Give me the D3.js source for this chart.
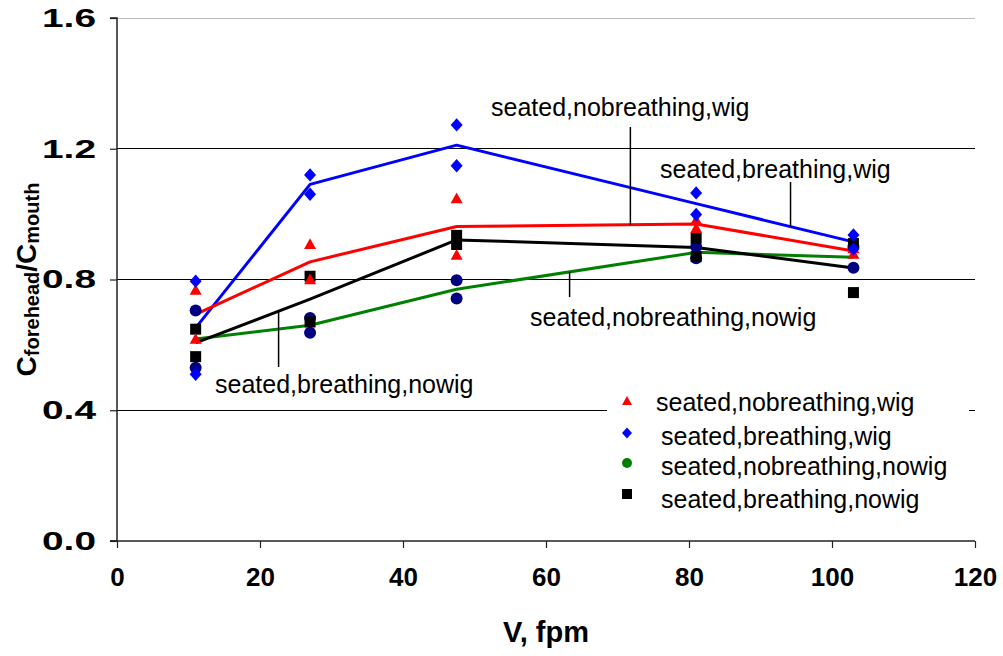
<!DOCTYPE html>
<html>
<head>
<meta charset="utf-8">
<script src="https://cdn.jsdelivr.net/npm/d3@7/dist/d3.min.js"></script>
<style>
  html, body { margin: 0; padding: 0; background: #fff; }
  svg { display: block; font-family: "Liberation Sans", Arial, sans-serif; }
</style>
</head>
<body>
<svg id="chart" width="1003" height="656"></svg>
<script>
// Air velocity (fpm) at which each run was made
const velocity = [11, 27, 47.5, 81, 103];

// Two replicate runs per configuration (ratio C_forehead / C_mouth)
const nobreathWigRunA   = [0.768, 0.908, 1.048, 0.982, 0.895];
const nobreathWigRunB   = [0.618, 0.800, 0.875, 0.957, 0.878];
const breathWigRunA     = [0.795, 1.120, 1.273, 1.065, 0.936];
const breathWigRunB     = [0.510, 1.061, 1.148, 0.999, 0.893];
const nobreathNowigRunA = [0.705, 0.682, 0.798, 0.900, 0.900];
const nobreathNowigRunB = [0.530, 0.637, 0.742, 0.865, 0.836];
const breathNowigRunA   = [0.648, 0.810, 0.935, 0.926, 0.910];
const breathNowigRunB   = [0.564, 0.670, 0.907, 0.870, 0.760];

// Mean curves drawn through each configuration
const nobreathWigMean   = [0.693, 0.854, 0.962, 0.970, 0.887];
const breathWigMean     = [0.652, 1.091, 1.211, 1.032, 0.915];
const nobreathNowigMean = [0.618, 0.660, 0.770, 0.883, 0.868];
const breathNowigMean   = [0.606, 0.740, 0.921, 0.898, 0.835];

// Series names
const seriesNames = [
  "seated,nobreathing,wig",
  "seated,breathing,wig",
  "seated,nobreathing,nowig",
  "seated,breathing,nowig"
];

// Axis ticks
const xTicks = [0, 20, 40, 60, 80, 100, 120];
const yTicks = [0.0, 0.4, 0.8, 1.2, 1.6];
const gridTicks = [0.4, 0.8, 1.2, 1.6];

const series = [
  { name: seriesNames[0], runs: [nobreathWigRunA, nobreathWigRunB], mean: nobreathWigMean,
    line: "#ff0000", marker: "triangle", fill: "#ff0000", legendFill: "#ff0000" },
  { name: seriesNames[1], runs: [breathWigRunA, breathWigRunB], mean: breathWigMean,
    line: "#0000ff", marker: "diamond", fill: "#0000ff", legendFill: "#0000ff" },
  { name: seriesNames[2], runs: [nobreathNowigRunA, nobreathNowigRunB], mean: nobreathNowigMean,
    line: "#008000", marker: "circle", fill: "#000080", legendFill: "#008000" },
  { name: seriesNames[3], runs: [breathNowigRunA, breathNowigRunB], mean: breathNowigMean,
    line: "#000000", marker: "square", fill: "#000000", legendFill: "#000000" }
];

const svg = d3.select("#chart");

const x = d3.scaleLinear().domain([0, 120]).range([117, 975]);
const y = d3.scaleLinear().domain([0, 1.6]).range([541, 18]);

// Marker shape paths, centred on the origin
function markerPath(type, s) {
  const h = s / 2;
  switch (type) {
    case "triangle": return `M0,${-h}L${h},${h * 0.8}L${-h},${h * 0.8}Z`;
    case "diamond":  return `M0,${-h * 1.12}L${h},0L0,${h * 1.12}L${-h},0Z`;
    case "square":   return `M${-h},${-h}H${h}V${h}H${-h}Z`;
    default: return d3.symbol(d3.symbolCircle, Math.PI * h * h)();
  }
}

// Gridlines
svg.append("g")
  .selectAll("line")
  .data(gridTicks)
  .join("line")
  .attr("x1", x(0)).attr("x2", x(120))
  .attr("y1", d => y(d)).attr("y2", d => y(d))
  .attr("stroke", d => d === 1.6 ? "#bbb" : "#000")
  .attr("stroke-width", 1)
  .attr("shape-rendering", "crispEdges");

// Axes
const yAxis = d3.axisLeft(y).tickValues(yTicks).tickSize(7).tickPadding(14)
  .tickFormat(d3.format(".1f"));
const xAxis = d3.axisBottom(x).tickValues(xTicks).tickSize(7).tickPadding(20)
  .tickFormat(d3.format("d"));

const gy = svg.append("g").attr("transform", `translate(${x(0)},0)`).call(yAxis);
const gx = svg.append("g").attr("transform", `translate(0,${y(0)})`).call(xAxis);

[gx, gy].forEach(g => {
  g.select(".domain").attr("stroke", "#222").attr("stroke-width", 1.5);
  g.selectAll(".tick line").attr("stroke", "#222").attr("stroke-width", 1.2);
  g.selectAll(".tick text")
    .attr("fill", "#000")
    .attr("font-family", "'Liberation Sans', Arial, sans-serif")
    .attr("font-weight", "bold")
    .attr("font-size", 26);
});
// Vertical tick labels are set wide
gy.selectAll(".tick text")
  .attr("textLength", 54)
  .attr("lengthAdjust", "spacingAndGlyphs");
gy.select(".domain").attr("d", `M-7,${y(1.6)}H0V${y(0)}H-7`);
gx.select(".domain").attr("d", `M${x(0) - 7},0H${x(120)}`);

// Mean lines
const lineGen = d3.line().x((d, i) => x(velocity[i])).y(d => y(d));
const lineOrder = [1, 0, 2, 3];
svg.append("g")
  .selectAll("path")
  .data(lineOrder.map(i => series[i]))
  .join("path")
  .attr("d", d => lineGen(d.mean))
  .attr("fill", "none")
  .attr("stroke", d => d.line)
  .attr("stroke-width", 3)
  .attr("stroke-linejoin", "round");

// Replicate markers
const markerOrder = [2, 3, 0, 1];
markerOrder.forEach(si => {
  const s = series[si];
  const pts = [];
  s.runs.forEach(run => run.forEach((v, i) => pts.push({ xv: velocity[i], yv: v })));
  svg.append("g")
    .selectAll("path")
    .data(pts)
    .join("path")
    .attr("transform", d => `translate(${x(d.xv)},${y(d.yv)})`)
    .attr("d", markerPath(s.marker, s.marker === "square" ? 11 : 12))
    .attr("fill", s.fill);
});

// Callout labels with leaders to their curves
const callouts = [
  { series: 0, at: 71.8, text: seriesNames[0], tx: 491, ty: 116, leaderEnd: 127 },
  { series: 1, at: 94.2, text: seriesNames[1], tx: 660, ty: 178, leaderEnd: 182 },
  { series: 2, at: 63.3, text: seriesNames[2], tx: 530, ty: 326, leaderEnd: 297 },
  { series: 3, at: 22.6, text: seriesNames[3], tx: 215, ty: 393, leaderEnd: 367 }
];
const interp = (arr, xv) => {
  for (let i = 0; i < velocity.length - 1; i++) {
    if (xv >= velocity[i] && xv <= velocity[i + 1]) {
      const t = (xv - velocity[i]) / (velocity[i + 1] - velocity[i]);
      return arr[i] + t * (arr[i + 1] - arr[i]);
    }
  }
  return arr[arr.length - 1];
};
const cg = svg.append("g");
callouts.forEach(c => {
  const px = x(c.at);
  const py = y(interp(series[c.series].mean, c.at));
  cg.append("line")
    .attr("x1", px).attr("x2", px)
    .attr("y1", py).attr("y2", c.leaderEnd)
    .attr("stroke", "#000").attr("stroke-width", 1.5);
  cg.append("text")
    .attr("x", c.tx).attr("y", c.ty)
    .attr("font-size", 25)
    .attr("fill", "#000")
    .text(c.text);
});

// Legend
const lg = svg.append("g");
lg.append("rect").attr("x", 607).attr("y", 382).attr("width", 362).attr("height", 136).attr("fill", "#fff");
const legendRows = [
  { si: 0, my: 401, tx: 656, ty: 411 },
  { si: 1, my: 433, tx: 661, ty: 445 },
  { si: 2, my: 463, tx: 661, ty: 475 },
  { si: 3, my: 494, tx: 661, ty: 508 }
];
legendRows.forEach(r => {
  const s = series[r.si];
  lg.append("path")
    .attr("transform", `translate(627,${r.my})`)
    .attr("d", markerPath(s.marker, 10))
    .attr("fill", s.legendFill);
  lg.append("text")
    .attr("x", r.tx).attr("y", r.ty)
    .attr("font-size", 25)
    .attr("fill", "#000")
    .text(s.name);
});

// Axis titles
svg.append("text")
  .attr("x", x(60)).attr("y", 642)
  .attr("text-anchor", "middle")
  .attr("font-size", 29).attr("font-weight", "bold")
  .text("V, fpm");

const yt = svg.append("text")
  .attr("transform", `translate(36,${(y(0) + y(1.6)) / 2}) rotate(-90)`)
  .attr("text-anchor", "middle")
  .attr("font-weight", "bold")
  .attr("font-size", 28);
yt.append("tspan").text("C");
yt.append("tspan").attr("font-size", 20).attr("dy", 3).text("forehead");
yt.append("tspan").attr("dy", -3).text("/C");
yt.append("tspan").attr("font-size", 20).attr("dy", 3).text("mouth");
</script>
</body>
</html>
